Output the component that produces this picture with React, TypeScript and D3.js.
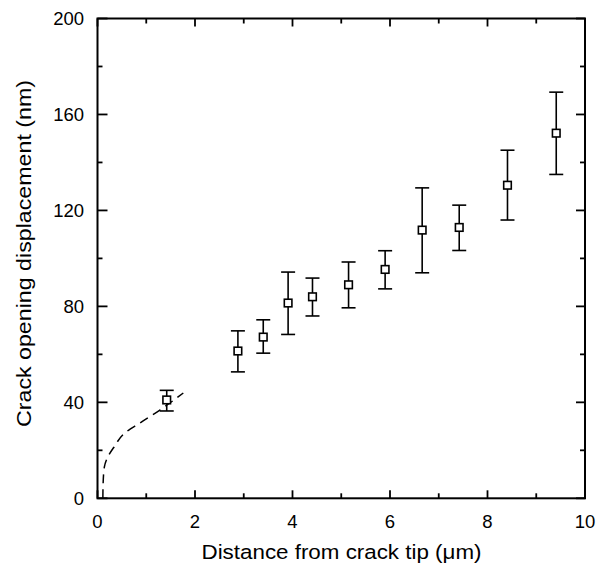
import React from "react";
import * as d3 from "d3";

const distance = [1.42, 2.88, 3.4, 3.91, 4.41, 5.15, 5.9, 6.66, 7.42, 8.41, 9.41];
const cod = [41, 61.4, 67.2, 81.4, 84, 89, 95.4, 111.8, 112.9, 130.5, 152.2];
const errHigh = [45, 69.8, 74.4, 94.3, 91.8, 98.5, 103.2, 129.4, 122.2, 145.1, 169.3];
const errLow = [36.4, 52.7, 60.5, 68.3, 76, 79.4, 87.3, 94, 103.3, 116, 135];

const fitX = [0.11, 0.115, 0.14, 0.2, 0.34, 0.56, 0.87, 1.28, 1.76];
const fitY = [0, 6, 13, 16.8, 21.4, 27.2, 31.4, 36.8, 43.9];

const xTicks = [0, 2, 4, 6, 8, 10];
const yTicks = [0, 40, 80, 120, 160, 200];
const xMinor = [1, 3, 5, 7, 9];
const yMinor = [20, 60, 100, 140, 180];

export default function App() {
  const W = 596, H = 564;
  const L = 97.5, R = 585, T = 18.5, B = 498.3;
  const x = d3.scaleLinear().domain([0, 10]).range([L, R]);
  const y = d3.scaleLinear().domain([0, 200]).range([B, T]);
  const font = "'Liberation Sans', Arial, sans-serif";
  const major = 8, minor = 5;

  const fitLine = d3
    .line<number>()
    .x((_, i) => x(fitX[i]))
    .y((d) => y(d))
    .curve(d3.curveMonotoneY)(fitY);

  return (
    <svg
      width={W}
      height={H}
      style={{ position: "absolute", left: 0, top: 0, background: "#fff" }}
    >
      <rect x={0} y={0} width={W} height={H} fill="#fff" />
      {/* ticks */}
      <g stroke="#000" strokeWidth={1.8}>
        {xTicks.map((t) => (
          <g key={"xt" + t}>
            <line x1={x(t)} x2={x(t)} y1={B} y2={B - major} />
            <line x1={x(t)} x2={x(t)} y1={T} y2={T + major} />
          </g>
        ))}
        {xMinor.map((t) => (
          <g key={"xm" + t}>
            <line x1={x(t)} x2={x(t)} y1={B} y2={B - minor} />
            <line x1={x(t)} x2={x(t)} y1={T} y2={T + minor} />
          </g>
        ))}
        {yTicks.map((t) => (
          <g key={"yt" + t}>
            <line x1={L} x2={L + major + 2} y1={y(t)} y2={y(t)} />
            <line x1={R} x2={R - major - 1} y1={y(t)} y2={y(t)} />
          </g>
        ))}
        {yMinor.map((t) => (
          <g key={"ym" + t}>
            <line x1={L} x2={L + minor} y1={y(t)} y2={y(t)} />
            <line x1={R} x2={R - minor} y1={y(t)} y2={y(t)} />
          </g>
        ))}
      </g>
      <rect
        x={L}
        y={T}
        width={R - L}
        height={B - T}
        fill="none"
        stroke="#000"
        strokeWidth={2}
      />
      {/* tick labels */}
      <g fontFamily={font} fontSize={18.5} fill="#000">
        {xTicks.map((t) => (
          <text key={"xl" + t} x={x(t)} y={527.5} textAnchor="middle">
            {t}
          </text>
        ))}
        {yTicks.map((t) => (
          <text
            key={"yl" + t}
            x={84}
            y={y(t) + 6.5}
            textAnchor="end"
          >
            {t}
          </text>
        ))}
      </g>
      {/* axis titles */}
      <text
        x={201.5}
        y={559}
        fontFamily={font}
        fontSize={20.5}
        textLength={280}
        lengthAdjust="spacingAndGlyphs"
        fill="#000"
      >
        Distance from crack tip (μm)
      </text>
      <text
        transform={`translate(31,427) rotate(-90)`}
        fontFamily={font}
        fontSize={20.5}
        textLength={347}
        lengthAdjust="spacingAndGlyphs"
        fill="#000"
      >
        Crack opening displacement (nm)
      </text>
      {/* fit curve */}
      <path
        d={fitLine || ""}
        fill="none"
        stroke="#000"
        strokeWidth={1.5}
        strokeDasharray="9 6"
      />
      {/* error bars and markers */}
      <g stroke="#000" strokeWidth={1.6} fill="none">
        {distance.map((d, i) => {
          const cx = x(d);
          return (
            <g key={"p" + i}>
              <line x1={cx} x2={cx} y1={y(errLow[i])} y2={y(errHigh[i])} />
              <line x1={cx - 7} x2={cx + 7} y1={y(errLow[i])} y2={y(errLow[i])} />
              <line x1={cx - 7} x2={cx + 7} y1={y(errHigh[i])} y2={y(errHigh[i])} />
              <rect
                x={cx - 3.8}
                y={y(cod[i]) - 3.8}
                width={7.6}
                height={7.6}
                fill="#fff"
              />
            </g>
          );
        })}
      </g>
    </svg>
  );
}
